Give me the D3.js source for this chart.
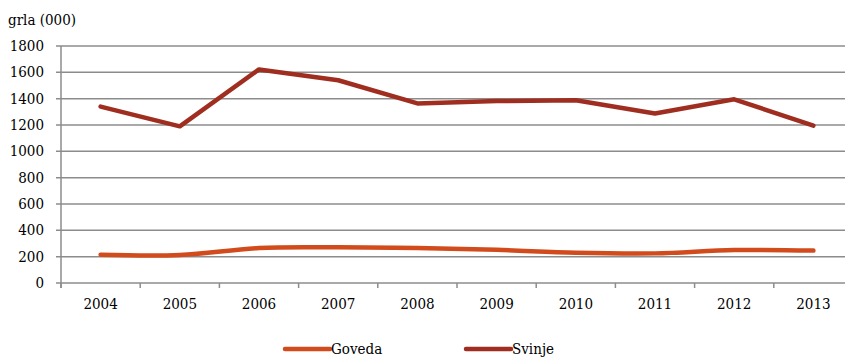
<!DOCTYPE html>
<html><head><meta charset="utf-8">
<script src="https://cdn.jsdelivr.net/npm/d3@7"></script>
<style>body{margin:0;background:#fff}</style>
</head><body><svg id="c" width="845" height="357" font-family="'DejaVu Serif Condensed', 'DejaVu Serif', serif"></svg>
<script>
const years = ["2004","2005","2006","2007","2008","2009","2010","2011","2012","2013"];
const goveda = [215, 213, 266, 271, 266, 252, 230, 225, 250, 246];
const svinje = [1340, 1190, 1622, 1540, 1364, 1382, 1388, 1288, 1395, 1195];
const yTicks = [0,200,400,600,800,1000,1200,1400,1600,1800];
const seriesNames = ["Goveda","Svinje"];
const colors = ["#D24B1C","#A02E20"];

(function(){
const svg = d3.select("#c");
const mL = 61, mR = 853, mT = 46, mB = 283;
const x = d3.scaleBand().domain(years).range([mL,mR]);
const y = d3.scaleLinear().domain([0,1800]).range([mB,mT]);

svg.append("g").selectAll("line").data(yTicks).join("line")
  .attr("x1",mL-5).attr("x2",mR).attr("y1",d=>y(d)).attr("y2",d=>y(d))
  .attr("stroke","#8c8c8c").attr("stroke-width",1.5);
svg.append("line").attr("x1",mL).attr("x2",mL).attr("y1",mT).attr("y2",mB+5)
  .attr("stroke","#8c8c8c").attr("stroke-width",1.5);
const bounds = years.map(d=>x(d)).concat([mR]);
svg.append("g").selectAll("line").data(bounds).join("line")
  .attr("x1",d=>d).attr("x2",d=>d).attr("y1",mB).attr("y2",mB+5)
  .attr("stroke","#8c8c8c").attr("stroke-width",1.5);
svg.append("g").selectAll("text").data(yTicks).join("text")
  .attr("x",44).attr("y",d=>y(d)+5).attr("text-anchor","end").attr("font-size",15).text(d=>d);
svg.append("g").selectAll("text").data(years).join("text")
  .attr("x",d=>x(d)+x.bandwidth()/2).attr("y",309).attr("text-anchor","middle").attr("font-size",15).text(d=>d);
svg.append("text").attr("x",8).attr("y",25).attr("font-size",15).text("grla (000)");

const cx = d=>x(d)+x.bandwidth()/2;
const lineG = d3.line().x((d,i)=>cx(years[i])).y(d=>y(d)).curve(d3.curveCatmullRom.alpha(0.5));
const lineS = d3.line().x((d,i)=>cx(years[i])).y(d=>y(d));
svg.append("path").attr("d",lineG(goveda)).attr("fill","none").attr("stroke",colors[0]).attr("stroke-width",4.5).attr("stroke-linecap","round").attr("stroke-linejoin","round");
svg.append("path").attr("d",lineS(svinje)).attr("fill","none").attr("stroke",colors[1]).attr("stroke-width",4.5).attr("stroke-linecap","round").attr("stroke-linejoin","round");

const legX = [285, 466];
seriesNames.forEach((n,i)=>{
  svg.append("line").attr("x1",legX[i]).attr("x2",legX[i]+45).attr("y1",349).attr("y2",349)
    .attr("stroke",colors[i]).attr("stroke-width",4.5).attr("stroke-linecap","round");
  svg.append("text").attr("x",legX[i]+46).attr("y",354).attr("font-size",15).text(n);
});
})();
</script></body></html>
